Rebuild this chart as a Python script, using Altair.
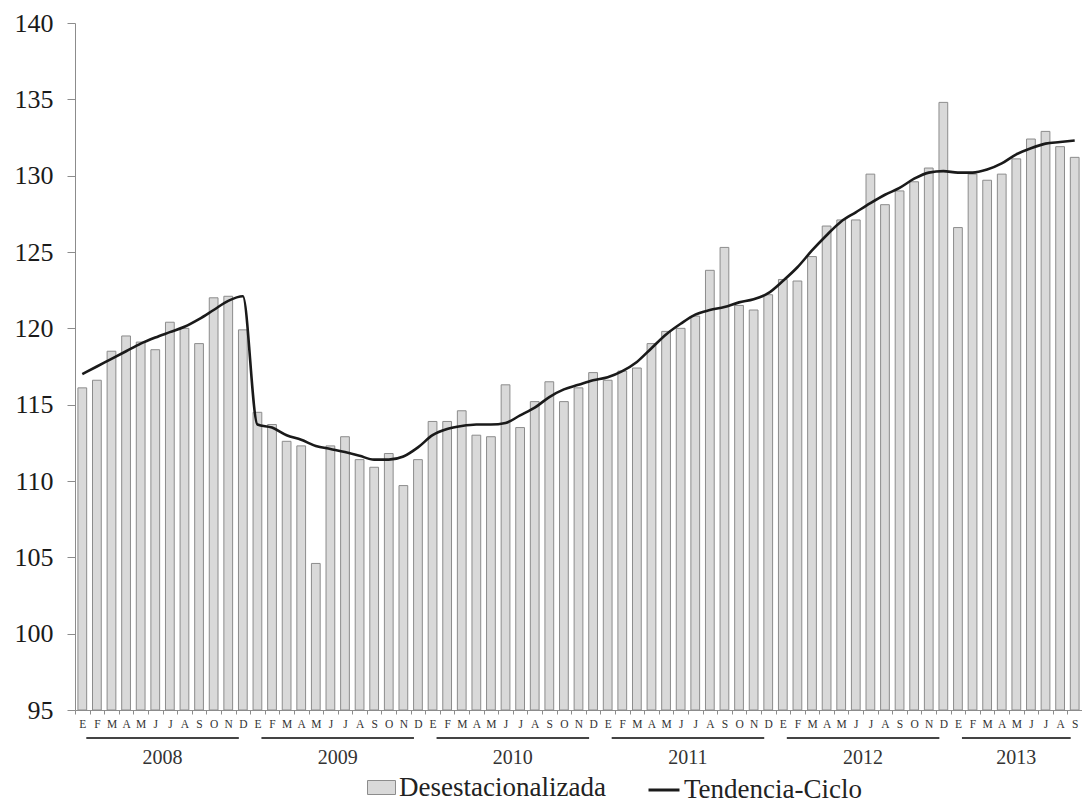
import altair as alt
import pandas as pd

FONT = "Liberation Serif"

meses = ["E", "F", "M", "A", "M", "J", "J", "A", "S", "O", "N", "D"]
anios = [2008, 2009, 2010, 2011, 2012, 2013]

# Serie desestacionalizada (barras)
desest_2008 = [116.1, 116.6, 118.5, 119.5, 119.1, 118.6, 120.4, 120.0, 119.0, 122.0, 122.1, 119.9]
desest_2009 = [114.5, 113.7, 112.6, 112.3, 104.6, 112.3, 112.9, 111.4, 110.9, 111.8, 109.7, 111.4]
desest_2010 = [113.9, 113.9, 114.6, 113.0, 112.9, 116.3, 113.5, 115.2, 116.5, 115.2, 116.1, 117.1]
desest_2011 = [116.6, 117.2, 117.4, 119.0, 119.8, 120.0, 120.8, 123.8, 125.3, 121.5, 121.2, 122.2]
desest_2012 = [123.2, 123.1, 124.7, 126.7, 127.1, 127.1, 130.1, 128.1, 129.0, 129.6, 130.5, 134.8]
desest_2013 = [126.6, 130.1, 129.7, 130.1, 131.1, 132.4, 132.9, 131.9, 131.2]

# Tendencia-Ciclo (línea)
tend_2008 = [117.0, 117.5, 118.0, 118.5, 119.0, 119.4, 119.75, 120.1, 120.6, 121.2, 121.8, 122.1]
tend_2009 = [113.7, 113.5, 113.0, 112.7, 112.3, 112.1, 111.9, 111.65, 111.4, 111.4, 111.6, 112.2]
tend_2010 = [113.0, 113.4, 113.6, 113.7, 113.7, 113.8, 114.3, 114.8, 115.5, 116.0, 116.3, 116.6]
tend_2011 = [116.8, 117.2, 117.8, 118.7, 119.6, 120.3, 120.9, 121.2, 121.4, 121.7, 121.9, 122.3]
tend_2012 = [123.1, 124.0, 125.1, 126.1, 127.0, 127.6, 128.2, 128.75, 129.2, 129.8, 130.2, 130.3]
tend_2013 = [130.2, 130.2, 130.4, 130.8, 131.4, 131.8, 132.1, 132.2, 132.3]

desest = desest_2008 + desest_2009 + desest_2010 + desest_2011 + desest_2012 + desest_2013
tend = tend_2008 + tend_2009 + tend_2010 + tend_2011 + tend_2012 + tend_2013
n = len(desest)

df = pd.DataFrame({
    "idx": list(range(n)),
    "desest": desest,
    "tend": tend,
    "s_bar": ["Desestacionalizada"] * n,
    "s_line": ["Tendencia-Ciclo"] * n,
})

years_rows = []
for k, a in enumerate(anios):
    first = 12 * k
    last = min(12 * k + 11, n - 1)
    years_rows.append({"label": str(a), "first": first, "last": last, "mid": (first + last) / 2})
years_df = pd.DataFrame(years_rows)

label_expr = "[" + ",".join("'" + m + "'" for m in meses) + "][datum.value % 12]"

x_enc = alt.X(
    "idx:O",
    scale=alt.Scale(domain=list(range(n)), paddingInner=0, paddingOuter=0),
    axis=alt.Axis(
        title=None, labelExpr=label_expr, labelAngle=0, labelFont=FONT,
        labelFontSize=11.5, labelColor="#333333", labelPadding=4,
        tickBand="extent", tickSize=4, tickColor="#8c8c8c",
        domainColor="#8c8c8c", labelOverlap=False, labelFlush=False,
    ),
)
y_scale = alt.Scale(domain=[95, 140], nice=False, zero=False)
y_axis = alt.Axis(
    title=None, values=list(range(95, 141, 5)), labelFont=FONT, labelFontSize=26,
    labelColor="#1a1a1a", tickSize=8, tickColor="#8c8c8c", domainColor="#8c8c8c",
    labelPadding=14,
)

base = alt.Chart(df)

bars = base.mark_bar(
    width=alt.RelativeBandSize(0.6), stroke="#8c8c8c", strokeWidth=1
).encode(
    x=x_enc,
    y=alt.Y("desest:Q", scale=y_scale, axis=y_axis),
    y2=alt.datum(95),
    fill=alt.Fill(
        "s_bar:N",
        scale=alt.Scale(domain=["Desestacionalizada"], range=["#d9d9d9"]),
        legend=alt.Legend(
            title=None, orient="none", legendX=292, legendY=750, padding=0,
            symbolType="M-1,-0.5H1V0.5H-1Z", symbolSize=784,
            symbolStrokeColor="#8c8c8c", symbolStrokeWidth=1,
            labelFont=FONT, labelFontSize=27, labelColor="#222222",
            labelLimit=400, labelOffset=3,
        ),
    ),
)

line = base.mark_line(strokeWidth=2.6, interpolate="monotone").encode(
    x=x_enc,
    y=alt.Y("tend:Q", scale=y_scale, axis=y_axis),
    stroke=alt.Stroke(
        "s_line:N",
        scale=alt.Scale(domain=["Tendencia-Ciclo"], range=["#1a1a1a"]),
        legend=alt.Legend(
            title=None, orient="none", legendX=572, legendY=750, padding=0,
            symbolType="stroke", symbolSize=961, symbolStrokeWidth=3,
            labelFont=FONT, labelFontSize=27, labelColor="#222222",
            labelLimit=400, labelOffset=3,
        ),
    ),
)

main = alt.layer(bars, line)

yx_scale = alt.Scale(domain=[-0.5, n - 0.5], nice=False, zero=False)
ybase = alt.Chart(years_df)
year_rules = ybase.mark_rule(color="#444444", strokeWidth=2, xOffset=4, x2Offset=-4).encode(
    x=alt.X("first:Q", scale=yx_scale, axis=None),
    x2="last:Q",
    y=alt.value(715),
)
year_text = ybase.mark_text(font=FONT, fontSize=20, color="#333333", baseline="middle").encode(
    x=alt.X("mid:Q", scale=yx_scale, axis=None),
    y=alt.value(735),
    text="label:N",
)
years_layer = alt.layer(year_rules, year_text)

chart = alt.layer(main, years_layer).resolve_scale(x="independent").properties(
    width=1007,
    height=687,
    autosize=alt.AutoSizeParams(type="none"),
    padding={"left": 67, "top": 15, "right": 0, "bottom": 93},
).configure_view(stroke=None).configure_axis(grid=False)

chart.save("out.html", embed_options={"renderer": "svg", "actions": False})
